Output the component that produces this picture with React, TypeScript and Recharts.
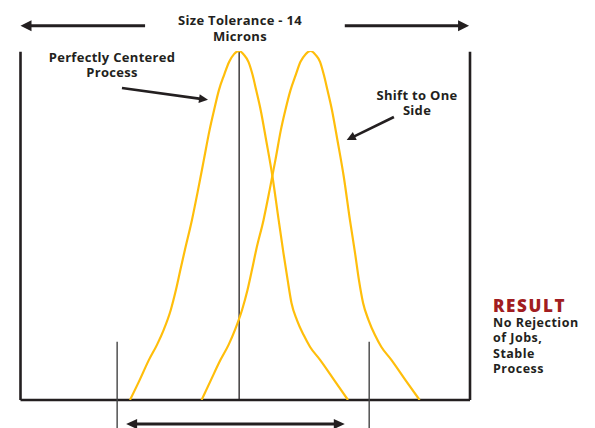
import React from 'react';
import { LineChart, Line, XAxis, YAxis, ReferenceLine } from 'recharts';

// x = position across the 14 micron tolerance band, y = relative frequency (peak = 100)
const centeredX = [
  3.41, 3.71, 4.0, 4.25, 4.46, 4.68, 4.84, 4.98, 5.12, 5.34, 5.53, 5.71, 5.89, 6.03, 6.18, 6.34, 6.5, 6.65, 6.81,
  6.96, 7.1, 7.23, 7.34, 7.48, 7.65, 7.85, 8.04, 8.19, 8.32, 8.44, 8.61, 8.82, 9.02, 9.33, 9.77, 10.2,
];
const centeredY = [
  0, 5.7, 11.5, 15.8, 20.1, 25.8, 31.5, 37.3, 43.0, 51.6, 60.2, 68.8, 77.4, 83.1, 88.8, 93.1, 96.9, 99.1, 100,
  98.9, 96.9, 93.1, 88.8, 83.1, 74.5, 63.9, 51.6, 42.1, 34.4, 27.8, 22.9, 18.6, 15.2, 11.5, 5.7, 0,
];

const shiftedX = [
  5.64, 5.93, 6.23, 6.48, 6.68, 6.9, 7.07, 7.21, 7.34, 7.57, 7.76, 7.94, 8.11, 8.25, 8.41, 8.57, 8.72, 8.88, 9.03,
  9.19, 9.33, 9.45, 9.56, 9.7, 9.87, 10.07, 10.26, 10.42, 10.54, 10.67, 10.84, 11.04, 11.24, 11.55, 11.99, 12.43,
];
const shiftedY = [
  0, 5.7, 11.5, 15.8, 20.1, 25.8, 31.5, 37.3, 43.0, 51.6, 60.2, 68.8, 77.4, 83.1, 88.8, 93.1, 96.9, 99.1, 100,
  98.9, 96.9, 93.1, 88.8, 83.1, 74.5, 63.9, 51.6, 42.1, 34.4, 27.8, 22.9, 18.6, 15.2, 11.5, 5.7, 0,
];

const toleranceLimits = [0, 14];
const centerMark = 6.81;
const spreadMarks = [3.01, 10.86];
const spreadMarkTop = 16.7;
const spreadMarkBottom = -8;
const spreadArrow = { from: 3.29, to: 10.1, y: -6.9 };
const toleranceArrowY = 107.2;
const toleranceArrows = [
  { from: 3.88, to: 0 },
  { from: 10.1, to: 13.97 },
];
const calloutArrows = [
  { x1: 3.16, y1: 89.4, x2: 5.84, y2: 86.0 },
  { x1: 11.63, y1: 81.1, x2: 10.16, y2: 74.5 },
];

const centered = centeredX.map((x, i) => ({ x, y: centeredY[i] }));
const shifted = shiftedX.map((x, i) => ({ x, y: shiftedY[i] }));

const INK = '#231f20';
const GOLD = '#ffbe0b';
const FONT = "'Open Sans', sans-serif";

type Seg = { x1: number; y1: number; x2: number; y2: number; stroke?: string; strokeWidth?: number | string };

function arrowShape(headLen: number, headHalf: number, both = false) {
  return (p: Seg) => {
    const { x1, y1, x2, y2 } = p;
    const stroke = p.stroke ?? INK;
    const w = Number(p.strokeWidth ?? 2.5);
    const a = Math.atan2(y2 - y1, x2 - x1);
    const c = Math.cos(a);
    const s = Math.sin(a);
    const head = (tx: number, ty: number, dir: number) => {
      const bx = tx - dir * headLen * c;
      const by = ty - dir * headLen * s;
      return `${tx},${ty} ${bx - headHalf * s},${by + headHalf * c} ${bx + headHalf * s},${by - headHalf * c}`;
    };
    const inset = headLen * 0.8;
    const sx = both ? x1 + inset * c : x1;
    const sy = both ? y1 + inset * s : y1;
    return (
      <g>
        <line x1={sx} y1={sy} x2={x2 - inset * c} y2={y2 - inset * s} stroke={stroke} strokeWidth={w} />
        <polygon points={head(x2, y2, 1)} fill={stroke} />
        {both && <polygon points={head(x1, y1, -1)} fill={stroke} />}
      </g>
    );
  };
}

const textBase: React.CSSProperties = {
  position: 'absolute',
  fontFamily: FONT,
  fontWeight: 700,
  color: INK,
  whiteSpace: 'nowrap',
  letterSpacing: 0.3,
};

const centeredLabel = (left: number, top: number, lines: string[]) => (
  <div
    style={{
      ...textBase,
      left,
      top,
      transform: 'translateX(-50%)',
      textAlign: 'center',
      fontSize: 13,
      lineHeight: '15.5px',
    }}
  >
    {lines.map((l) => (
      <div key={l}>{l}</div>
    ))}
  </div>
);

export default function App() {
  return (
    <div style={{ position: 'absolute', left: 0, top: 0, width: 595, height: 428, background: '#fff' }}>
      <LineChart
        width={595}
        height={428}
        margin={{ top: 51, right: 125, bottom: 28, left: 20.5 }}
      >
        <XAxis dataKey="x" type="number" domain={[0, 14]} hide allowDataOverflow />
        <YAxis dataKey="y" type="number" domain={[0, 100]} hide allowDataOverflow />

        {/* tolerance frame */}
        {toleranceLimits.map((x) => (
          <ReferenceLine
            key={`lim-${x}`}
            segment={[{ x, y: 0 }, { x, y: 99.8 }]}
            stroke={INK}
            strokeWidth={2.6}
            ifOverflow="visible"
          />
        ))}
        <ReferenceLine
          segment={[{ x: toleranceLimits[0], y: 0 }, { x: toleranceLimits[1], y: 0 }]}
          stroke={INK}
          strokeWidth={2.6}
          ifOverflow="visible"
        />
        <ReferenceLine
          segment={[{ x: centerMark, y: 0 }, { x: centerMark, y: 100 }]}
          stroke={INK}
          strokeWidth={1.3}
          ifOverflow="visible"
        />
        {spreadMarks.map((x) => (
          <ReferenceLine
            key={`spread-${x}`}
            segment={[{ x, y: spreadMarkBottom }, { x, y: spreadMarkTop }]}
            stroke="#444"
            strokeWidth={1.4}
            ifOverflow="visible"
          />
        ))}

        <Line data={centered} dataKey="y" type="monotone" stroke={GOLD} strokeWidth={2.2} dot={false} isAnimationActive={false} />
        <Line data={shifted} dataKey="y" type="monotone" stroke={GOLD} strokeWidth={2.2} dot={false} isAnimationActive={false} />

        {/* arrows */}
        {toleranceArrows.map((a) => (
          <ReferenceLine
            key={`tol-${a.to}`}
            segment={[{ x: a.from, y: toleranceArrowY }, { x: a.to, y: toleranceArrowY }]}
            stroke={INK}
            strokeWidth={3}
            ifOverflow="visible"
            shape={arrowShape(11, 5.5)}
          />
        ))}
        <ReferenceLine
          segment={[{ x: spreadArrow.from, y: spreadArrow.y }, { x: spreadArrow.to, y: spreadArrow.y }]}
          stroke={INK}
          strokeWidth={3}
          ifOverflow="visible"
          shape={arrowShape(11, 5, true)}
        />
        {calloutArrows.map((a) => (
          <ReferenceLine
            key={`call-${a.x1}`}
            segment={[{ x: a.x1, y: a.y1 }, { x: a.x2, y: a.y2 }]}
            stroke={INK}
            strokeWidth={2.6}
            ifOverflow="visible"
            shape={arrowShape(9, 4.5)}
          />
        ))}
      </LineChart>

      {centeredLabel(240, 13.3, ['Size Tolerance - 14', 'Microns'])}
      {centeredLabel(112, 49.6, ['Perfectly Centered', 'Process'])}
      {centeredLabel(417, 87.6, ['Shift to One', 'Side'])}

      <div
        style={{
          ...textBase,
          left: 493,
          top: 296.6,
          fontSize: 17,
          lineHeight: '17px',
          fontWeight: 800,
          color: '#a11d21',
          letterSpacing: 1.6,
        }}
      >
        RESULT
      </div>
      <div
        style={{
          ...textBase,
          left: 493,
          top: 315,
          fontSize: 12.5,
          lineHeight: '15.3px',
          letterSpacing: 0.5,
        }}
      >
        <div>No Rejection</div>
        <div>of Jobs,</div>
        <div>Stable</div>
        <div>Process</div>
      </div>
    </div>
  );
}
